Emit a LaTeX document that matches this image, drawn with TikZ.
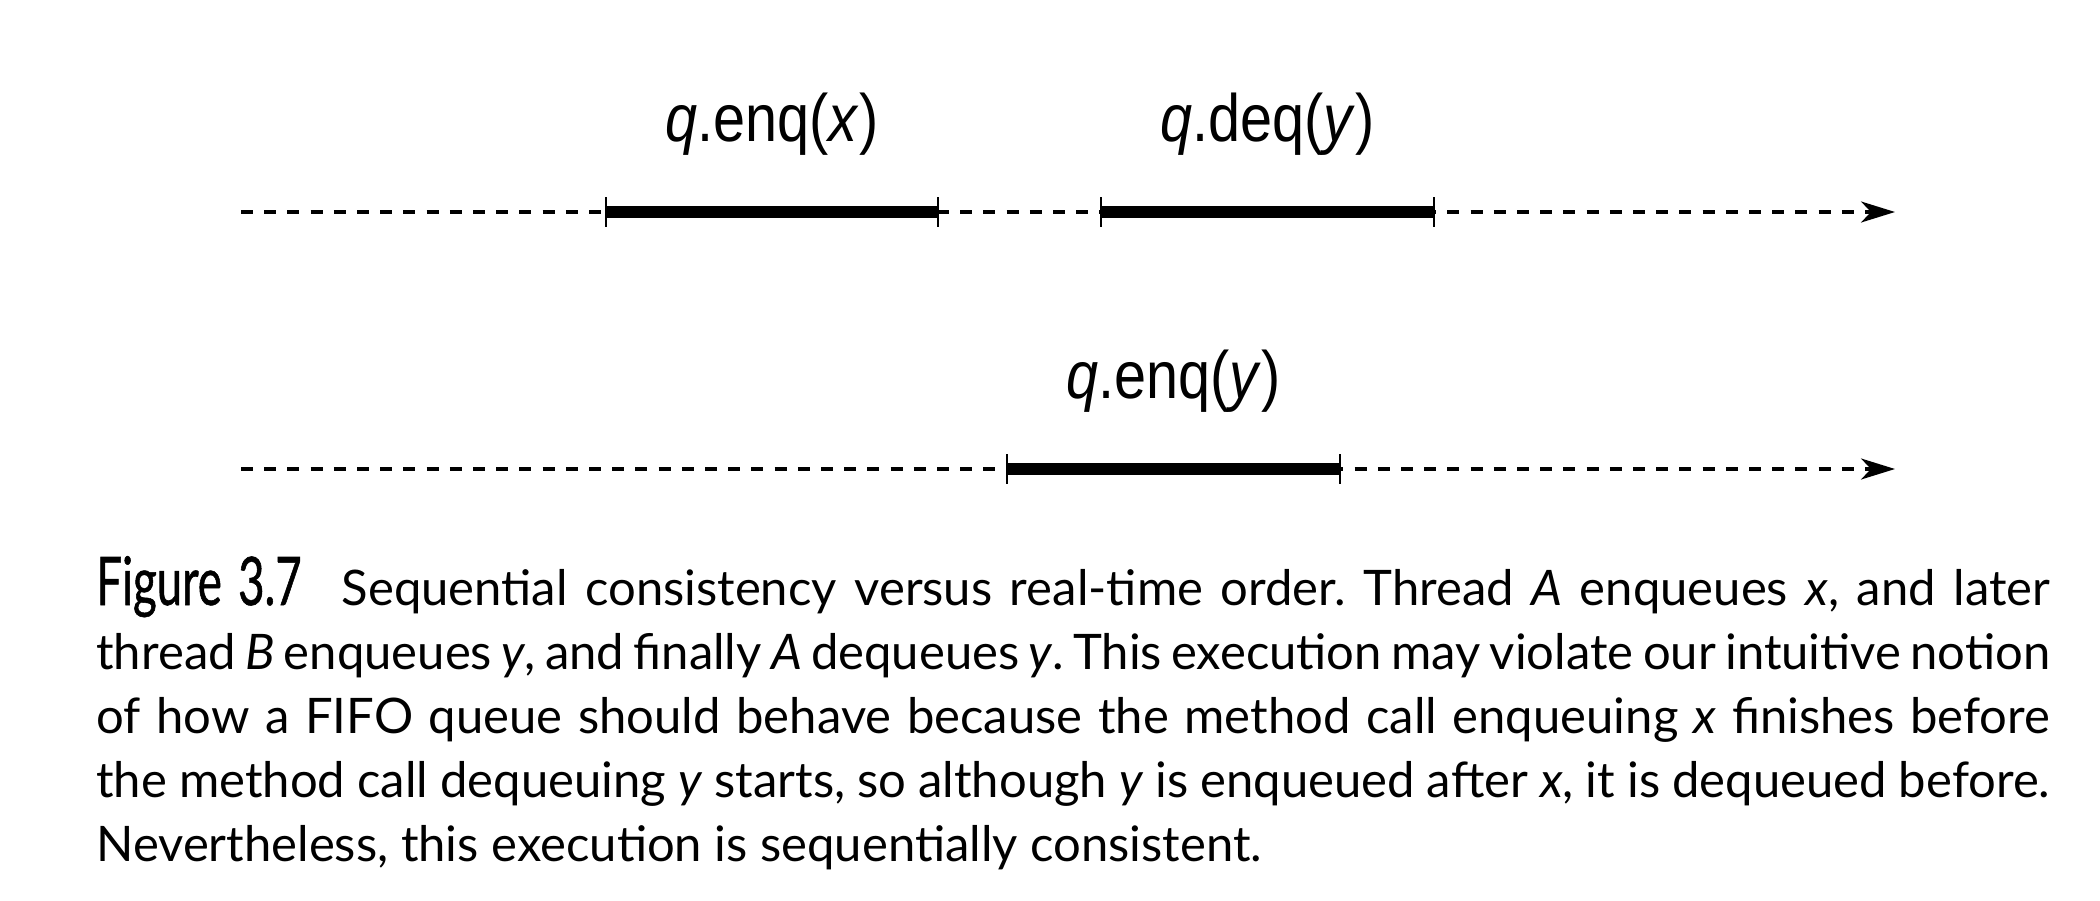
\documentclass[tikz,border=0pt]{standalone}
\usepackage{fontspec}
\setmainfont{Lato}
\newfontfamily\lblfont[FakeStretch=0.86]{Liberation Sans}
\newfontfamily\figfont[FakeStretch=0.68,FakeBold=0.8]{Lato}
\usetikzlibrary{arrows.meta}
\begin{document}
\begin{tikzpicture}[x=0.5pt,y=-0.5pt,
  timeline/.style={line width=1.65pt, dash pattern=on 6pt off 5.6pt,
    -{Stealth[length=17pt,width=10.5pt,inset=5pt]}},
  interval/.style={line width=6pt},
  tickmark/.style={line width=1.35pt},
  lbl/.style={font=\lblfont\fontsize{33.5pt}{40pt}\selectfont, inner sep=0pt, anchor=base}]
\useasboundingbox (0,0) rectangle (2100,900);
% thread A
\coordinate (s1) at (241,212);
\coordinate (e1) at (1895,212);
\coordinate (a1) at (606,212);
\coordinate (a2) at (938,212);
\coordinate (b1) at (1101,212);
\coordinate (b2) at (1434,212);
% thread B
\coordinate (s2) at (241,469);
\coordinate (e2) at (1895,469);
\coordinate (c1) at (1007,469);
\coordinate (c2) at (1340,469);
\draw[timeline] (s1) -- (e1);
\draw[timeline] (s2) -- (e2);
\draw[interval] (a1) -- (a2);
\draw[interval] (b1) -- (b2);
\draw[interval] (c1) -- (c2);
\foreach \p in {a1,a2,b1,b2,c1,c2}
  \draw[tickmark] ([yshift=7.5pt]\p) -- ([yshift=-7.5pt]\p);
\node[lbl] (l1) at (772,141) {\textit{q}.enq(\textit{x})};
\node[lbl] (l2) at (1267.5,141) {\textit{q}.deq(\textit{y})};
\node[lbl] (l3) at (1173.5,398) {\textit{q}.enq(\textit{y})};
% caption
\node[anchor=base west, inner sep=0pt] (cap) at (96,605) {\parbox[t]{977pt}{\frenchspacing\fontsize{24.5pt}{32pt}\selectfont
\hbox to \linewidth{{\figfont\fontsize{33.5pt}{32pt}\selectfont Figure 3.7}\hspace{20pt}Sequential consistency versus real-time order. Thread \textit{A} enqueues \textit{x}, and later}
\hbox to \linewidth{thread \textit{B} enqueues \textit{y}, and finally \textit{A} dequeues \textit{y}. This execution may violate our intuitive notion}
\hbox to \linewidth{of how a FIFO queue should behave because the method call enqueuing \textit{x} finishes before}
\hbox to \linewidth{the method call dequeuing \textit{y} starts, so although \textit{y} is enqueued after \textit{x}, it is dequeued before.}
\hbox{Nevertheless, this execution is sequentially consistent.}}};
\end{tikzpicture}
\end{document}
